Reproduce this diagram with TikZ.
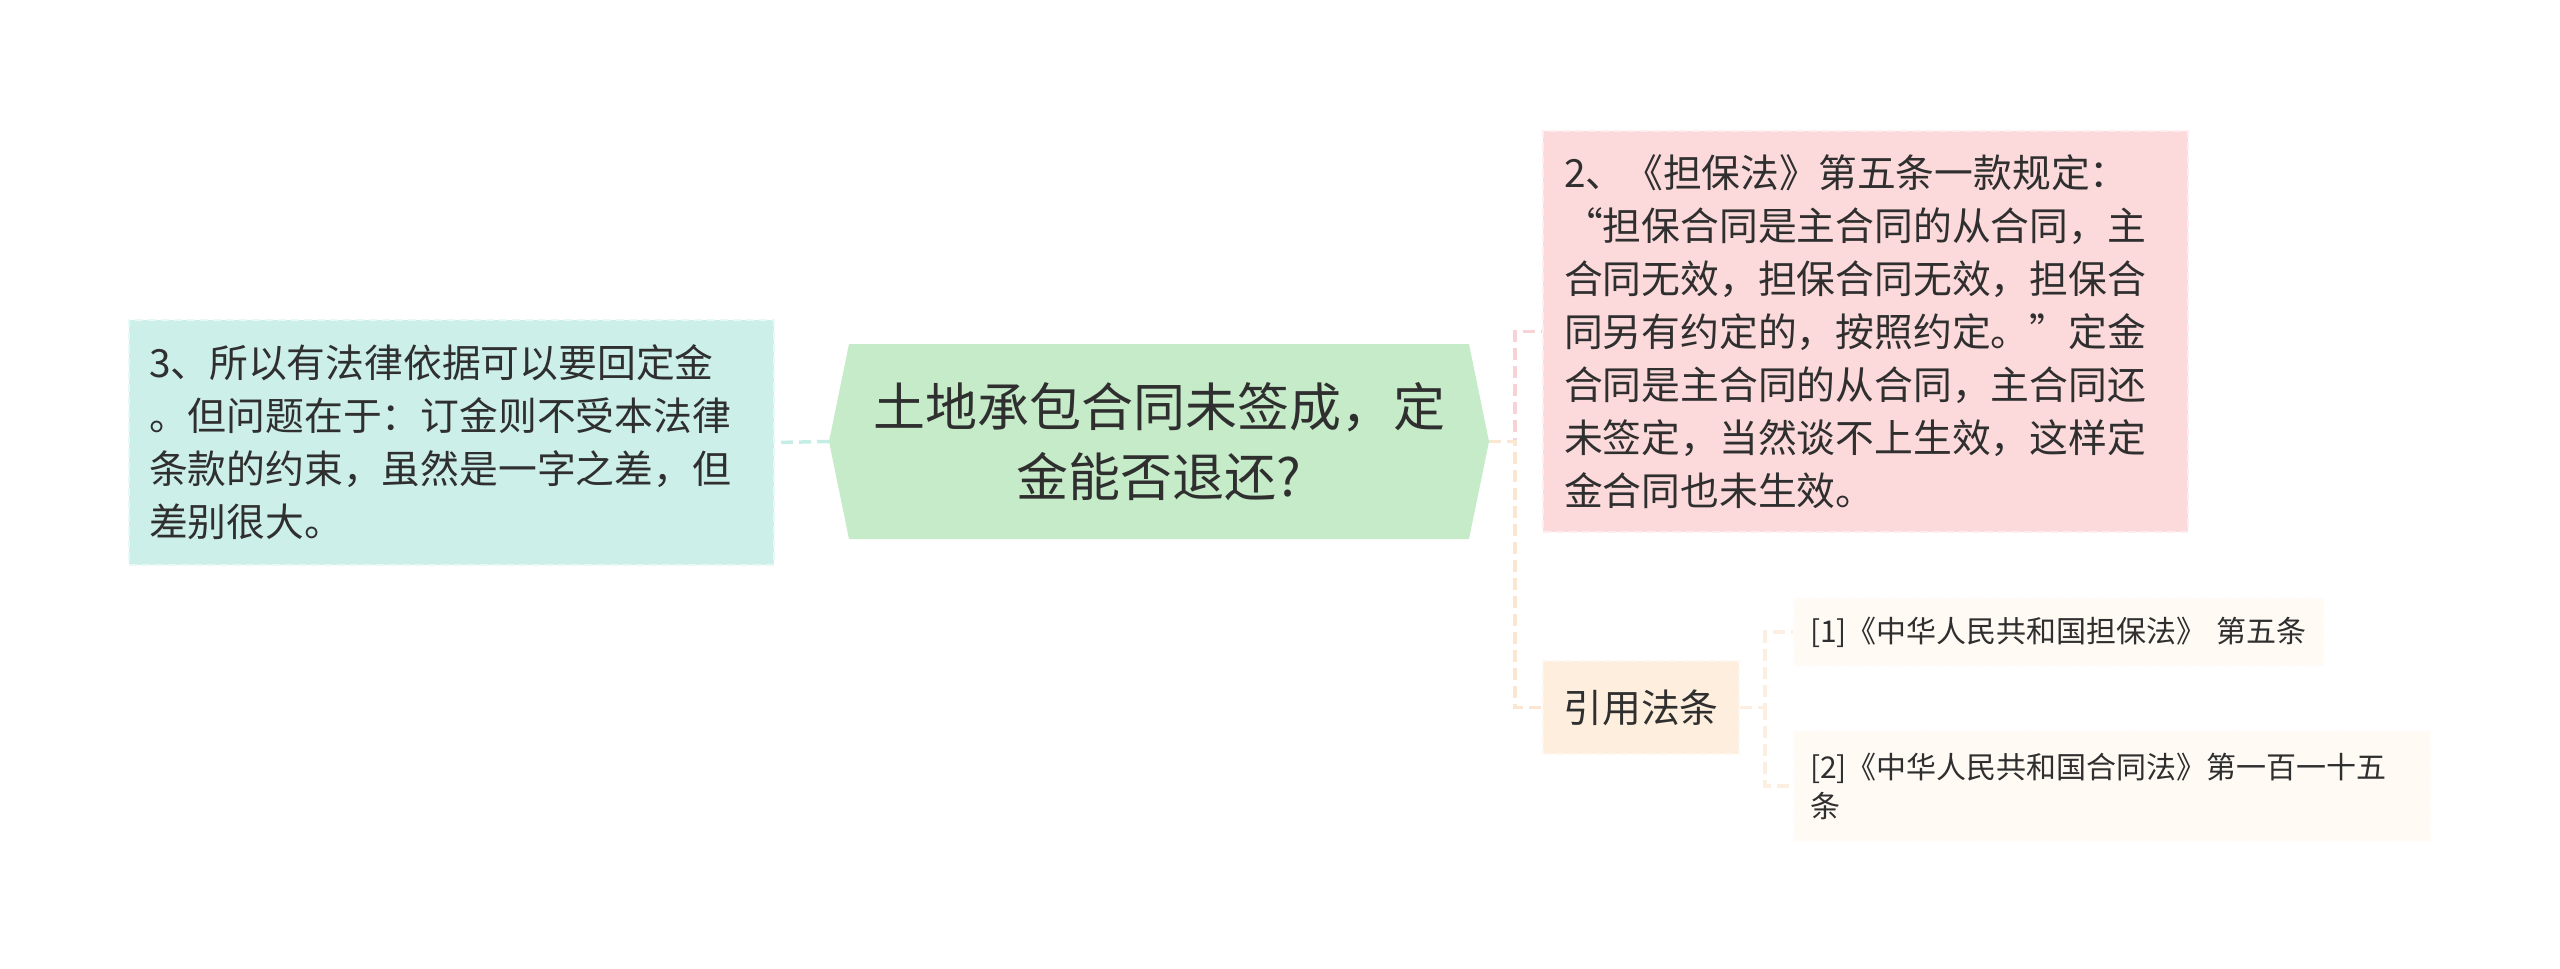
\documentclass[tikz,border=0pt]{standalone}
\usepackage{fontspec}
\setmainfont{Noto Sans CJK SC}

\definecolor{ink}{HTML}{2F2F2F}
\definecolor{mintfill}{HTML}{CCEFE9}
\definecolor{rootfill}{HTML}{C6EBC9}
\definecolor{pinkfill}{HTML}{FCDADB}
\definecolor{peachfill}{HTML}{FDEEDD}
\definecolor{creamfill}{HTML}{FFFAF4}
\definecolor{mintline}{HTML}{C4EDE6}
\definecolor{pinkline}{HTML}{F8D3D5}
\definecolor{peachline}{HTML}{FBE6D1}
\definecolor{creamline}{HTML}{FCEEE0}

\tikzset{every picture/.style={line width=0.75pt}}
\tikzset{
  topic/.style={draw, dash pattern=on 8pt off 5pt, line width=2pt, inner xsep=20pt, inner ysep=0pt,
    text=ink, align=left, font=\fontsize{38.8}{53}\selectfont},
  refbox/.style={topic, inner xsep=16pt, font=\fontsize{30}{39}\selectfont, fill=creamfill, draw=white!50!creamfill},
  link/.style={dash pattern=on 12pt off 6pt, line width=3.5pt},
}

\begin{document}
\begin{tikzpicture}%
[x=1pt,y=1pt,yscale=-1,xscale=1]
\useasboundingbox (0,0) rectangle (2560,969);

%Shape: Hexagon [id:root]
\coordinate (rootL) at (829,441.5);
\coordinate (rootR) at (1489,441.5);
\fill[rootfill] (rootL) -- (849,344) -- (1469,344) -- (rootR) -- (1469,539) -- (849,539) -- cycle;
% Text Node
\node[text=ink, align=center, font=\fontsize{52}{70}\selectfont] (root) at (1159,441.5) {土地承包合同未签成，定\\金能否退还?};

%Shape: Rectangle [id:reason]
\node[topic, fill=mintfill, draw=white!55!mintfill, text width=605pt, minimum height=245pt] (reason) at (451.5,442.5)
  {3、所以有法律依据可以要回定金\\。但问题在于：订金则不受本法律\\条款的约束，虽然是一字之差，但\\差别很大。};

%Shape: Rectangle [id:clause]
\node[topic, fill=pinkfill, draw=white!55!pinkfill, inner xsep=21pt, text width=603pt, minimum height=401pt] (clause) at (1865.5,331.5)
  {2、《担保法》第五条一款规定：\\“担保合同是主合同的从合同，主\\合同无效，担保合同无效，担保合\\同另有约定的，按照约定。”定金\\合同是主合同的从合同，主合同还\\未签定，当然谈不上生效，这样定\\金合同也未生效。};

%Shape: Rectangle [id:law]
\node[topic, fill=peachfill, draw=white!55!peachfill, inner xsep=0pt, align=center, minimum width=196pt, minimum height=93pt] (law) at (1641,707.5) {引用法条};

%Shape: Rectangle [id:ref1]
\node[refbox, anchor=west, text width=498pt, minimum height=68pt] (ref1) at (1793,632) {[1]《中华人民共和国担保法》 第五条};
%Shape: Rectangle [id:ref2]
\node[refbox, anchor=west, text width=604pt, minimum height=110pt] (ref2) at (1793,786) {[2]《中华人民共和国合同法》第一百一十五\\条};

%Straight Lines
\draw[link, mintline] (rootL) -- (reason.east);
\coordinate (hub) at (1515,441.5);
\draw[link, pinkline] (rootR) -- (hub) |- (clause.west);
\draw[link, peachline] (rootR) -- (hub) |- (law.west);
\coordinate (lawhub) at (1765,707.5);
\draw[link, creamline] (law.east) -- (lawhub) |- (ref1.west);
\draw[link, creamline] (lawhub) |- (ref2.west);

\end{tikzpicture}
\end{document}
